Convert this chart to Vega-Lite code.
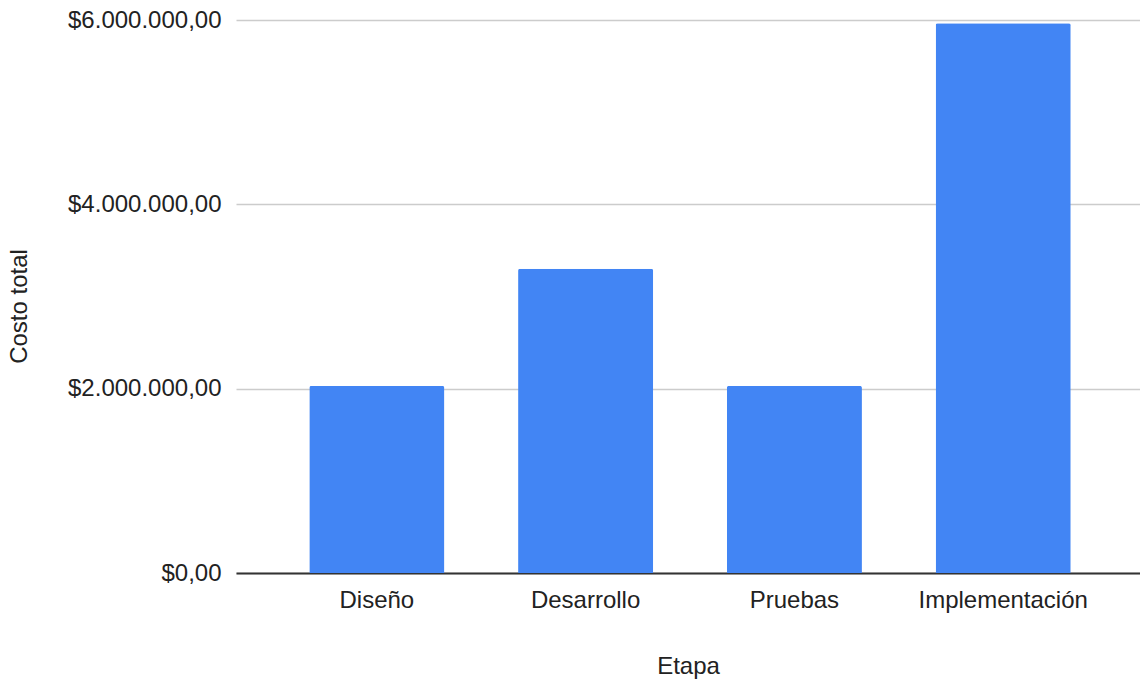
{
  "$schema": "https://vega.github.io/schema/vega-lite/v6.json",
  "autosize": "none",
  "width": 908,
  "height": 553,
  "padding": {"left": 236, "top": 20, "right": 0, "bottom": 107},
  "background": "white",
  "config": {
    "locale": {
      "number": {"decimal": ",", "thousands": ".", "grouping": [3], "currency": ["$", ""]}
    },
    "font": "Liberation Sans",
    "view": {"stroke": null}
  },
  "data": {
    "values": [
      {"Etapa": "Diseño", "Costo total": 2030000},
      {"Etapa": "Desarrollo", "Costo total": 3300000},
      {"Etapa": "Pruebas", "Costo total": 2030000},
      {"Etapa": "Implementación", "Costo total": 5965000}
    ]
  },
  "mark": {"type": "bar", "color": "#4285F4", "cornerRadiusTopLeft": 2, "cornerRadiusTopRight": 2},
  "encoding": {
    "x": {
      "field": "Etapa",
      "type": "nominal",
      "sort": null,
      "scale": {"paddingInner": 0.353, "paddingOuter": 0.351},
      "axis": {
        "title": "Etapa",
        "labelAngle": 0,
        "labelFontSize": 24,
        "labelColor": "#222222",
        "labelPadding": 15,
        "ticks": false,
        "domainColor": "#333333",
        "domainWidth": 2,
        "titleFontSize": 24,
        "titleFontWeight": "normal",
        "titleColor": "#222222",
        "titlePadding": 42,
        "titleX": 452,
        "grid": false
      }
    },
    "y": {
      "field": "Costo total",
      "type": "quantitative",
      "scale": {"domain": [0, 6000000], "nice": false},
      "axis": {
        "title": "Costo total",
        "values": [0, 2000000, 4000000, 6000000],
        "format": "$,.2f",
        "labelFontSize": 24,
        "labelColor": "#222222",
        "labelPadding": 15,
        "ticks": false,
        "domain": false,
        "gridColor": "#cccccc",
        "gridWidth": 1.5,
        "titleFontSize": 24,
        "titleFontWeight": "normal",
        "titleColor": "#222222",
        "titlePadding": 36,
        "titleY": 286
      }
    }
  }
}
